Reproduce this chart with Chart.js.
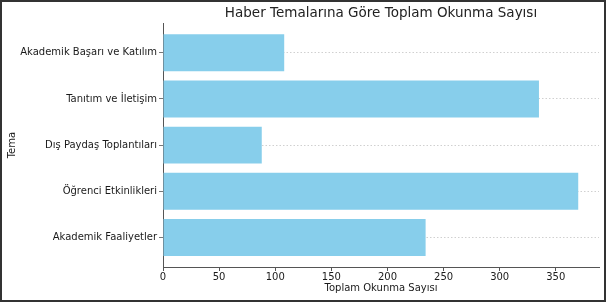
<!DOCTYPE html>
<html>
<head>
<meta charset="utf-8">
<script src="https://cdn.jsdelivr.net/npm/chart.js@4"></script>
<style>
  html, body { margin: 0; padding: 0; background: #fff; }
  #frame {
    position: absolute; left: 0; top: 0;
    width: 606px; height: 302px;
    box-sizing: border-box;
    border: 2px solid #333;
  }
  #chart { display: block; }
</style>
</head>
<body>
<div id="frame"><canvas id="chart" width="602" height="298"></canvas></div>
<script>
// bottom to top, like the original barh
const themes = ['Akademik Faaliyetler', 'Öğrenci Etkinlikleri', 'Dış Paydaş Toplantıları', 'Tanıtım ve İletişim', 'Akademik Başarı ve Katılım'];
const readCounts = [234, 370, 88, 335, 108];
const xTicks = [0, 50, 100, 150, 200, 250, 300, 350];

const points = themes.map((t, i) => ({ x: readCounts[i], y: i }));
const font = { family: 'DejaVu Sans', size: 10 };

new Chart(document.getElementById('chart').getContext('2d'), {
  type: 'bar',
  data: {
    datasets: [{
      data: points,
      backgroundColor: '#87CEEB',
      borderWidth: 0,
      categoryPercentage: 1,
      barPercentage: 0.8
    }]
  },
  options: {
    indexAxis: 'y',
    responsive: false,
    animation: false,
    layout: { padding: { left: 0, right: 5, top: 0, bottom: 0 } },
    plugins: {
      legend: { display: false },
      tooltip: { enabled: false },
      title: {
        display: true,
        text: 'Haber Temalarına Göre Toplam Okunma Sayısı',
        fullSize: false,
        color: '#222',
        font: { family: 'DejaVu Sans', size: 13.5, weight: 'normal' },
        padding: { top: 3, bottom: 2 }
      }
    },
    scales: {
      x: {
        type: 'linear',
        min: 0,
        max: 388.5,
        afterBuildTicks: s => { s.ticks = xTicks.map(v => ({ value: v })); },
        afterFit: s => { s.height = 33; },
        grid: { drawOnChartArea: false, drawTicks: true, tickLength: 4, tickColor: '#555' },
        border: { display: true, color: '#555', width: 1 },
        ticks: { color: '#1a1a1a', font, padding: 0, maxRotation: 0 },
        title: { display: true, text: 'Toplam Okunma Sayısı', color: '#1a1a1a', font, padding: { top: 0, bottom: 6 } }
      },
      y: {
        type: 'linear',
        min: -0.64,
        max: 4.64,
        offset: false,
        afterBuildTicks: s => { s.ticks = themes.map((t, i) => ({ value: i })); },
        afterFit: s => { s.width = 161; },
        grid: { offset: false, color: '#c4c4c4', tickBorderDash: [], tickColor: '#555', tickLength: 4, lineWidth: 0.8 },
        border: { display: true, color: '#555', width: 1, dash: [1.5, 2] },
        ticks: { color: '#1a1a1a', font, padding: 2, callback: v => themes[v] },
        title: { display: true, text: 'Tema', color: '#1a1a1a', font, padding: { top: 4, bottom: 4 } }
      }
    }
  }
});
</script>
</body>
</html>
